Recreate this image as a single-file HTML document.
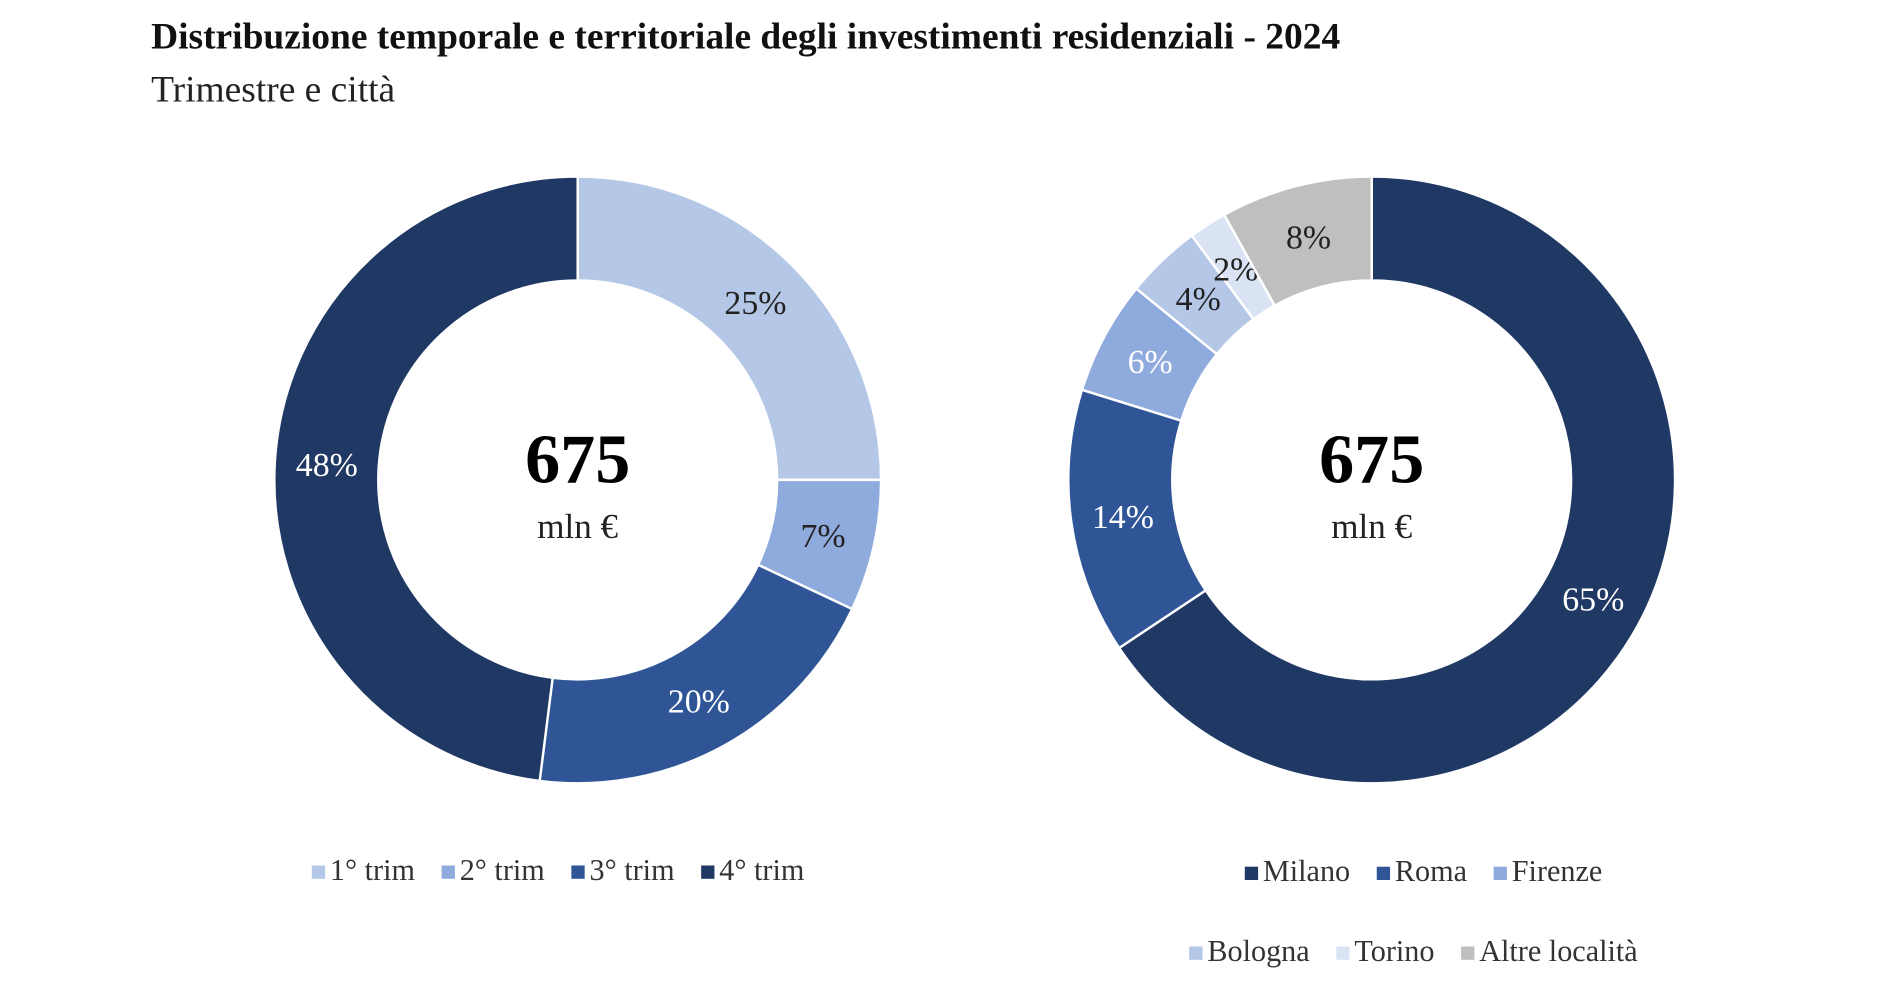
<!DOCTYPE html>
<html><head><meta charset="utf-8"><style>
html,body{margin:0;padding:0;background:#fff;}
svg{display:block;font-family:"Liberation Serif",serif;}
</style></head><body>
<svg id="chart" width="1895" height="990" viewBox="0 0 1568 819" preserveAspectRatio="none" xmlns="http://www.w3.org/2000/svg">
<text x="125" y="40" font-size="31" font-weight="bold" fill="#111">Distribuzione temporale e territoriale degli investimenti residenziali - 2024</text>
<text x="125" y="84" font-size="31" fill="#222">Trimestre e città</text>
<g id="left"></g>
<g id="right"></g>
</svg>
<script>
const quarterLabels = ["1° trim","2° trim","3° trim","4° trim"];
const quarterValues = [25, 7, 20, 48];
const cityLabels = ["Milano","Roma","Firenze","Bologna","Torino","Altre località"];
const cityValues = [65, 14, 6, 4, 2, 8];
const totalValue = 675;

const NS = "http://www.w3.org/2000/svg";
const quarterColors = ["#b4c7e7","#8faadc","#2f5597","#203864"];
const quarterText = ["#222","#222","#fff","#fff"];
const cityColors = ["#203864","#2f5597","#8faadc","#b4c7e7","#dae3f3","#bfbfbf"];
const cityText = ["#fff","#fff","#fff","#222","#222","#222"];

function mk(tag, attrs, parent){const e=document.createElementNS(NS,tag);for(const k in attrs)e.setAttribute(k,attrs[k]);parent.appendChild(e);return e;}
function pt(cx,cy,r,a){return [cx+r*Math.sin(a), cy-r*Math.cos(a)];}

function donut(g, cx, cy, values, colors, textCols, labels, legendRows, keyPrefix){
  const R=251, r=165, total=values.reduce((a,b)=>a+b,0);
  let a0=0;
  values.forEach((v,i)=>{
    const a1=a0+v/total*2*Math.PI;
    const large=(a1-a0)>Math.PI?1:0;
    const [x1,y1]=pt(cx,cy,R,a0),[x2,y2]=pt(cx,cy,R,a1),[x3,y3]=pt(cx,cy,r,a1),[x4,y4]=pt(cx,cy,r,a0);
    const p=mk("path",{d:`M${x1},${y1}A${R},${R} 0 ${large} 1 ${x2},${y2}L${x3},${y3}A${r},${r} 0 ${large} 0 ${x4},${y4}Z`,fill:colors[i],stroke:"#fff","stroke-width":2},g);
    
    
    const am=(a0+a1)/2;
    const [lx,ly]=pt(cx,cy,(R+r)/2,am);
    const t=mk("text",{x:lx,y:ly+10,"text-anchor":"middle","font-size":28,fill:textCols[i]},g);
    t.textContent=v+"%";
    
    
    a0=a1;
  });
  const c1=mk("text",{x:cx,y:cy+2,"text-anchor":"middle","font-size":58,"font-weight":"bold",fill:"#000"},g);
  c1.textContent=totalValue;
  
  
  const c2=mk("text",{x:cx,y:cy+48,"text-anchor":"middle","font-size":29,fill:"#222"},g);
  c2.textContent="mln €";
  
  
  legendRows.forEach(row=>{
    let x=row.x;
    row.items.forEach(i=>{
      const lg=mk("g",{},g);
      
      
      mk("rect",{x:x,y:row.y-8,width:11,height:11,fill:colors[i]},lg);
      const t=mk("text",{x:x+15,y:row.y+4,"font-size":25,fill:"#333"},lg);
      t.textContent=labels[i];
      x+=15+t.getComputedTextLength()+22;
    });
  });
}
donut(document.getElementById("left"),478,397,quarterValues,quarterColors,quarterText,quarterLabels,[{x:258,y:724,items:[0,1,2,3]}],"quarter");
donut(document.getElementById("right"),1135,397,cityValues,cityColors,cityText,cityLabels,[{x:1030,y:725,items:[0,1,2]},{x:984,y:791,items:[3,4,5]}],"city");
</script>
</body></html>
